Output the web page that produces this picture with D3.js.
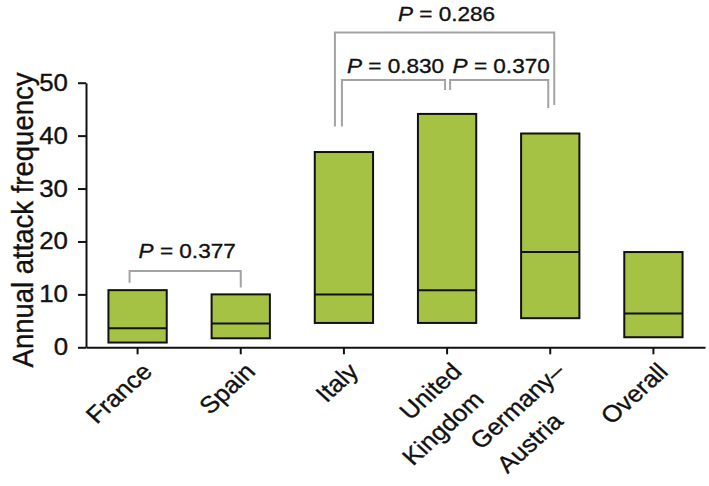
<!DOCTYPE html>
<html>
<head>
<meta charset="utf-8">
<script src="https://cdn.jsdelivr.net/npm/d3@7"></script>
<style>
  html, body { margin: 0; padding: 0; background: #ffffff; }
  svg { display: block; }
  text { stroke: #111; stroke-width: 0.35px; }
</style>
</head>
<body>
<svg id="chart" width="709" height="486"></svg>
<script>
// ---- data ----
const categories = ["France", "Spain", "Italy", "United Kingdom", "Germany–Austria", "Overall"];
const labelLines = [["France"], ["Spain"], ["Italy"], ["United", "Kingdom"], ["Germany–", "Austria"], ["Overall"]];
const lowValues = [0.9, 1.7, 4.6, 4.6, 5.5, 1.9];
const medianValues = [3.6, 4.5, 10.0, 10.8, 18.0, 6.4];
const highValues = [10.8, 10.0, 36.9, 44.1, 40.4, 18.0];
const yTicks = [0, 10, 20, 30, 40, 50];
const yTitle = "Annual attack frequency";
// comparisons: pair of categories, P value, bracket top, leg ends and label height (data units)
const compA = ["France", "Italy", "United Kingdom", "Italy"];
const compB = ["Spain", "United Kingdom", "Germany–Austria", "Germany–Austria"];
const compP = ["0.377", "0.830", "0.370", "0.286"];
const compTop = [14.4, 50.5, 50.5, 59.5];
const compLegA = [12.2, 41.7, 48.6, 41.7];
const compLegB = [11.3, 48.6, 45.2, 45.8];
const compText = [16.8, 51.9, 51.9, 61.7];
const compNudgeA = [-8, -2, 3, -9];
const compNudgeB = [0, -2, -2, 4];

// ---- layout ----
const svg = d3.select("#chart");
const font = "'Liberation Sans', Arial, Helvetica, sans-serif";
const stretch = "scale(1.1,1)";

const x = d3.scaleBand().domain(categories).range([86, 705]).padding(0);
const y = d3.scaleLinear().domain([0, 50]).range([347.3, 82.7]);
const boxW = x.bandwidth() * 0.565;
const fillCol = "#a6c244";

// boxes
const data = categories.map((c, i) => ({ c, lo: lowValues[i], med: medianValues[i], hi: highValues[i] }));
const gBoxes = svg.append("g");
gBoxes.selectAll("rect").data(data).join("rect")
  .attr("x", d => x(d.c) + x.bandwidth() / 2 - boxW / 2)
  .attr("width", boxW)
  .attr("y", d => y(d.hi))
  .attr("height", d => y(d.lo) - y(d.hi))
  .attr("fill", fillCol)
  .attr("stroke", "#111")
  .attr("stroke-width", 2);
gBoxes.selectAll("line").data(data).join("line")
  .attr("x1", d => x(d.c) + x.bandwidth() / 2 - boxW / 2)
  .attr("x2", d => x(d.c) + x.bandwidth() / 2 + boxW / 2)
  .attr("y1", d => y(d.med))
  .attr("y2", d => y(d.med))
  .attr("stroke", "#111")
  .attr("stroke-width", 2);

// y axis
const gy = svg.append("g").attr("transform", "translate(86,0)")
  .call(d3.axisLeft(y).tickValues(yTicks).tickSize(8).tickSizeOuter(0).tickPadding(10));
gy.select(".domain").attr("stroke", "#111").attr("stroke-width", 2);
gy.selectAll(".tick line").attr("stroke", "#111").attr("stroke-width", 2);
gy.selectAll(".tick text")
  .attr("x", 0)
  .attr("transform", "translate(-18,0) " + stretch)
  .attr("font-family", font).attr("font-size", 23.5).attr("fill", "#111");

// x axis
const gx = svg.append("g").attr("transform", "translate(0," + y(0) + ")")
  .call(d3.axisBottom(x).tickSize(7).tickSizeOuter(0).tickFormat(""));
gx.select(".domain").attr("stroke", "#111").attr("stroke-width", 2);
gx.selectAll(".tick line").attr("stroke", "#111").attr("stroke-width", 2);

// category labels
categories.forEach((c, i) => {
  const cx = x(c) + x.bandwidth() / 2;
  const g = svg.append("g")
    .attr("transform", `translate(${cx + 16},373) ${stretch} rotate(-45)`)
    .attr("font-family", font).attr("font-size", 23.5).attr("fill", "#111");
  const lines = labelLines[i];
  const t1 = g.append("text").attr("text-anchor", "end").text(lines[0]);
  if (lines.length > 1) {
    const w1 = t1.node().getComputedTextLength();
    g.append("text").attr("text-anchor", "middle")
      .attr("x", -w1 / 2 - 18).attr("y", 34).text(lines[1]);
  }
});

// y title
svg.append("text")
  .attr("transform", `translate(33,220) ${stretch} rotate(-90)`)
  .attr("text-anchor", "middle")
  .attr("font-family", font).attr("font-size", 27.5).attr("fill", "#111")
  .text(yTitle);

// comparison brackets
const gray = "#a3a3a3";
compP.forEach((p, i) => {
  const xa = x(compA[i]) + x.bandwidth() / 2 + compNudgeA[i];
  const xb = x(compB[i]) + x.bandwidth() / 2 + compNudgeB[i];
  const path = d3.path();
  path.moveTo(xa, y(compLegA[i]));
  path.lineTo(xa, y(compTop[i]));
  path.lineTo(xb, y(compTop[i]));
  path.lineTo(xb, y(compLegB[i]));
  svg.append("path").attr("d", path.toString())
    .attr("fill", "none").attr("stroke", gray).attr("stroke-width", 2);
  const t = svg.append("text")
    .attr("transform", `translate(${(xa + xb) / 2 + 2},${y(compText[i])}) ${stretch}`)
    .attr("text-anchor", "middle")
    .attr("font-family", font).attr("font-size", 20.5).attr("fill", "#111");
  t.append("tspan").attr("font-style", "italic").text("P");
  t.append("tspan").text(" = " + p);
});
</script>
</body>
</html>
